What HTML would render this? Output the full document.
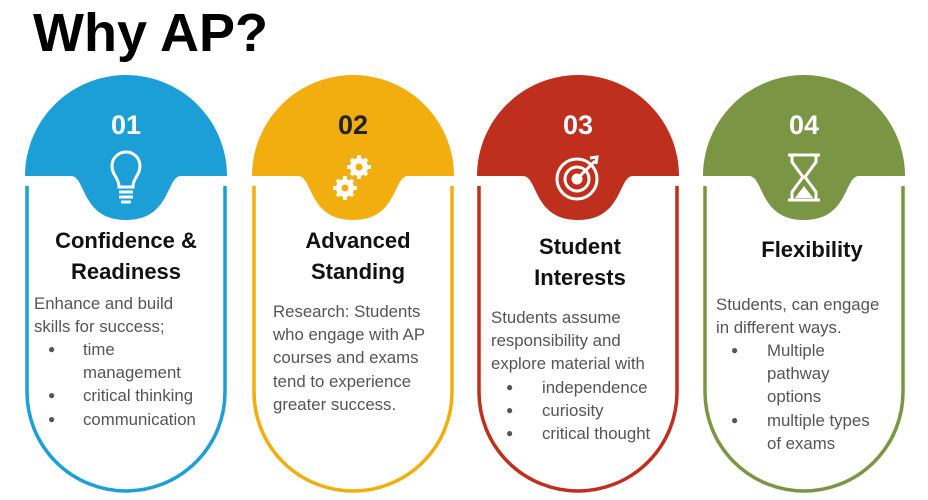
<!DOCTYPE html>
<html><head><meta charset="utf-8"><style>
body{margin:0;width:928px;height:500px;background:#fff;position:relative;overflow:hidden;font-family:"Liberation Sans",sans-serif}
.t{position:absolute;white-space:nowrap}
.h{font-weight:bold;font-size:22px;color:#111;text-align:center;width:202px;line-height:31px}
.b{font-size:16.8px;color:#555;line-height:23.2px}
.d{font-size:12px;color:#555;line-height:23.2px}
.n{font-weight:bold;font-size:27px;width:202px;text-align:center;color:#fff}
</style></head><body>
<svg width="928" height="500" style="position:absolute;left:0;top:0">
<path d="M25,176 A101,101 0 0 1 227,176 L181,176 C166,176 171,220 126,220 C81,220 86,176 71,176 Z" fill="#1B9FD6"/>
<path d="M27,186 L27,392 A99,99 0 0 0 225,392 L225,186" fill="none" stroke="#1B9FD6" stroke-width="3.5"/>
<path d="M252,176 A101,101 0 0 1 454,176 L408,176 C393,176 398,220 353,220 C308,220 313,176 298,176 Z" fill="#F2AE0E"/>
<path d="M254,186 L254,392 A99,99 0 0 0 452,392 L452,186" fill="none" stroke="#F2AE0E" stroke-width="3.5"/>
<path d="M477,176 A101,101 0 0 1 679,176 L633,176 C618,176 623,220 578,220 C533,220 538,176 523,176 Z" fill="#BF2F1D"/>
<path d="M479,186 L479,392 A99,99 0 0 0 677,392 L677,186" fill="none" stroke="#BF2F1D" stroke-width="3.5"/>
<path d="M703,176 A101,101 0 0 1 905,176 L859,176 C844,176 849,220 804,220 C759,220 764,176 749,176 Z" fill="#7A9544"/>
<path d="M705,186 L705,392 A99,99 0 0 0 903,392 L903,186" fill="none" stroke="#7A9544" stroke-width="3.5"/>
<g fill="none" stroke="#fff" stroke-width="3">
<path d="M119,187 C119,178 112,175 112,166 A14,14 0 1 1 140,166 C140,175 133,178 133,187 Z"/>
<line x1="119" y1="192" x2="133" y2="192"/><line x1="119" y1="197" x2="133" y2="197"/><line x1="121" y1="202" x2="131" y2="202"/>
</g>
<g fill="#fff">
<circle cx="359" cy="167" r="9"/><circle cx="345" cy="188" r="9"/>
<g stroke="#fff" stroke-width="4"><line x1="359" y1="155" x2="359" y2="179"/><line x1="347" y1="167" x2="371" y2="167"/><line x1="351" y1="159" x2="367" y2="175"/><line x1="351" y1="175" x2="367" y2="159"/>
<line x1="345" y1="176" x2="345" y2="200"/><line x1="333" y1="188" x2="357" y2="188"/><line x1="337" y1="180" x2="353" y2="196"/><line x1="337" y1="196" x2="353" y2="180"/></g>
</g>
<circle cx="359" cy="167" r="3.5" fill="#F2AE0E"/><circle cx="345" cy="188" r="3.5" fill="#F2AE0E"/>
<g fill="none" stroke="#fff" stroke-width="3">
<circle cx="577" cy="179" r="20"/><circle cx="577" cy="179" r="12"/><circle cx="577" cy="179" r="4" fill="#fff"/>
<line x1="578" y1="178" x2="595" y2="161"/>
<path d="M590,158 L597,157 L596,164"/>
</g>
<g fill="none" stroke="#fff" stroke-width="3">
<line x1="788" y1="155" x2="820" y2="155"/><line x1="788" y1="200" x2="820" y2="200"/>
<path d="M792,155 L792,162 L803,177 L792,192 L792,200 M816,155 L816,162 L805,177 L816,192 L816,200"/>
</g>
<path d="M795,198 L804,186 L813,198 Z" fill="#fff"/>
</svg>
<div class="t" style="left:33px;top:0px;font-weight:bold;font-size:54px;color:#000;line-height:66px">Why AP?</div>
<div class="t n" style="left:25px;top:110px">01</div>
<div class="t n" style="left:252px;top:110px;color:#222">02</div>
<div class="t n" style="left:477px;top:110px">03</div>
<div class="t n" style="left:703px;top:110px">04</div>
<div class="t h" style="left:25px;top:225px">Confidence &amp;<br>Readiness</div>
<div class="t h" style="left:257px;top:225px">Advanced<br>Standing</div>
<div class="t h" style="left:479px;top:231px">Student<br>Interests</div>
<div class="t h" style="left:711px;top:234px">Flexibility</div>
<div class="t b" style="left:34px;top:292px">Enhance and build<br>skills for success;</div>
<div class="t d" style="left:48px;top:338px">●<br><br>●<br>●</div>
<div class="t b" style="left:83px;top:338px">time<br>management<br>critical thinking<br>communication</div>
<div class="t b" style="left:273px;top:300px">Research: Students<br>who engage with AP<br>courses and exams<br>tend to experience<br>greater success.</div>
<div class="t b" style="left:491px;top:306px">Students assume<br>responsibility and<br>explore material with</div>
<div class="t d" style="left:506px;top:376px">●<br>●<br>●</div>
<div class="t b" style="left:542px;top:376px">independence<br>curiosity<br>critical thought</div>
<div class="t b" style="left:716px;top:293px">Students, can engage<br>in different ways.</div>
<div class="t d" style="left:731px;top:339px">●<br><br><br>●</div>
<div class="t b" style="left:767px;top:339px">Multiple<br>pathway<br>options<br>multiple types<br>of exams</div>
</body></html>
